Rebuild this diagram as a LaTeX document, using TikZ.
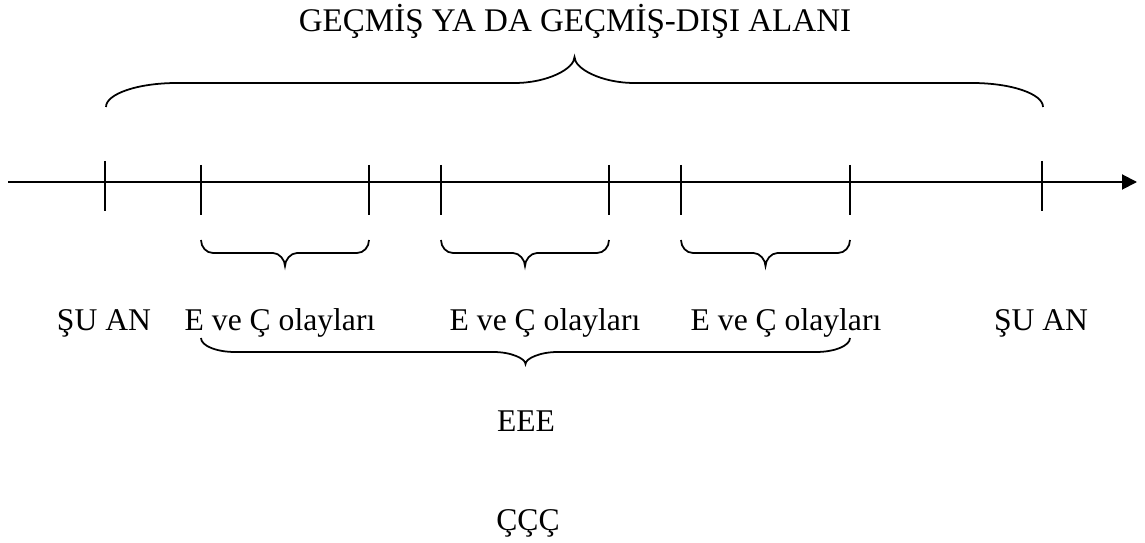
\documentclass[tikz,border=0pt]{standalone}
\usepackage{fontspec}
\setmainfont{Liberation Serif}
\usetikzlibrary{arrows.meta}

% curly brace: x left, x right, y of the ends, y of the flat part, y of the tip,
% width of the end bends, width of the tip bends
\newcommand{\curly}[7]{%
  \pgfmathsetmacro{\bmid}{(#1+#2)/2}
  \draw[brace] (#1,#3) .. controls (#1,{#3+0.55*(#4-#3)}) and ({#1+0.45*#6},#4) .. ({#1+#6},#4)
    -- ({\bmid-#7},#4) .. controls ({\bmid-0.45*#7},#4) and (\bmid,{#4+0.55*(#5-#4)}) .. (\bmid,#5)
    .. controls (\bmid,{#4+0.55*(#5-#4)}) and ({\bmid+0.45*#7},#4) .. ({\bmid+#7},#4)
    -- ({#2-#6},#4) .. controls ({#2-0.45*#6},#4) and (#2,{#3+0.55*(#4-#3)}) .. (#2,#3);}

\begin{document}
\begin{tikzpicture}[x=0.02cm,y=-0.02cm,
    lbl/.style={anchor=base,inner sep=0pt,font=\fontsize{18}{22}\selectfont},
    brace/.style={line width=1pt},
    tick/.style={line width=1pt}]
  \useasboundingbox (0,0) rectangle (1145,543);
  % time axis with its ticks
  \draw[line width=1.1pt,-{Triangle[length=0.3cm,width=0.3cm]}] (8,182) -- (1137,182);
  \foreach \x in {105,1042} \draw[tick] (\x,161) -- (\x,211);
  \foreach \x in {201,369,441,609,681,850} \draw[tick] (\x,165) -- (\x,215);
  % braces
  \curly{106}{1043}{107}{83}{57}{71}{60}
  \foreach \a/\b in {201/369,441/609,681/850} {\curly{\a}{\b}{240}{253}{266}{12}{12}}
  \curly{201}{850}{338}{352}{364}{34}{32}
  % labels
  \node[lbl,font=\fontsize{18.8}{22}\selectfont] (alan) at (575,32) {GEÇMİŞ YA DA GEÇMİŞ-DIŞI ALANI};
  \node[lbl] (simdiL) at (104,331) {ŞU AN};
  \node[lbl] (olay1) at (280,331) {E ve Ç olayları};
  \node[lbl] (olay2) at (545,331) {E ve Ç olayları};
  \node[lbl] (olay3) at (786,331) {E ve Ç olayları};
  \node[lbl] (simdiR) at (1041,331) {ŞU AN};
  \node[lbl] (eee) at (526,431) {EEE};
  \node[lbl] (ccc) at (528,530) {ÇÇÇ};
\end{tikzpicture}
\end{document}
